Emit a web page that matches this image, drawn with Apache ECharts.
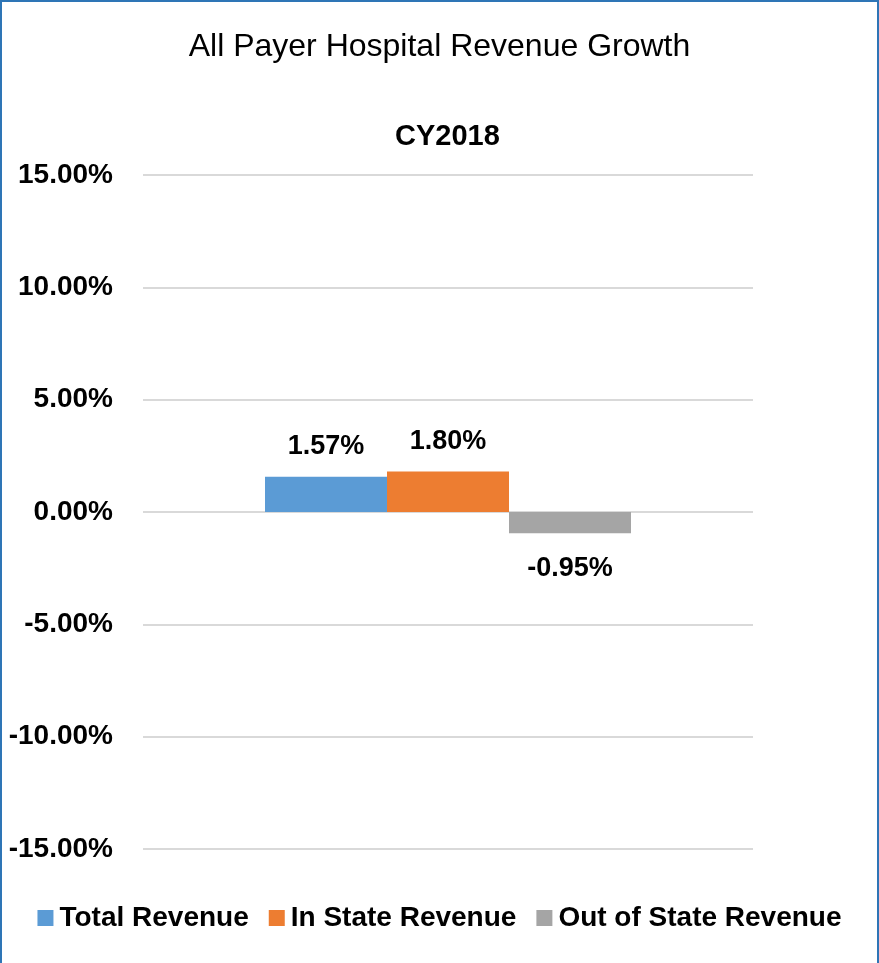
<!DOCTYPE html>
<html>
<head>
<meta charset="utf-8">
<script src="https://cdn.jsdelivr.net/npm/echarts@6/dist/echarts.min.js"></script>
<style>
  html, body { margin: 0; padding: 0; background: #fff; }
  #frame { position: absolute; left: 0; top: 0; width: 879px; height: 963px; box-sizing: border-box; border: 2px solid #2e75b6; border-bottom: none; }
  #chart { position: absolute; left: 0; top: 0; width: 879px; height: 963px; }
</style>
</head>
<body>
<div id="chart"></div>
<div id="frame"></div>
<script>
// Revenue growth by payer group, calendar year 2018 (percent)
const categories = ['CY2018'];
const seriesNames = ['Total Revenue', 'In State Revenue', 'Out of State Revenue'];
const totalRevenue = [1.57];
const inStateRevenue = [1.80];
const outOfStateRevenue = [-0.95];
const seriesColors = ['#5b9bd5', '#ed7d31', '#a5a5a5'];
const yTicks = { min: -15, max: 15, interval: 5 };

const FONT = '"Liberation Sans", Arial, sans-serif';
const pct = v => v.toFixed(2) + '%';

function makeSeries(name, values, color) {
  return {
    name: name,
    type: 'bar',
    barGap: '0%',
    barCategoryGap: '40%',
    itemStyle: { color: color },
    data: values.map(v => ({
      value: v,
      label: {
        show: true,
        position: v < 0 ? 'bottom' : 'top',
        distance: v < 0 ? 22 : 17,
        formatter: p => pct(p.value),
        fontFamily: FONT,
        fontWeight: 'bold',
        fontSize: 27,
        color: '#000'
      }
    }))
  };
}

const chart = echarts.init(document.getElementById('chart'));
chart.setOption({
  animation: false,
  backgroundColor: '#fff',
  title: [
    {
      text: 'All Payer Hospital Revenue Growth',
      left: 'center', top: 26,
      textStyle: { fontFamily: FONT, fontWeight: 'normal', fontSize: 32, color: '#000' }
    },
    {
      text: categories[0],
      left: 390, top: 117,
      textStyle: { fontFamily: FONT, fontWeight: 'bold', fontSize: 29, color: '#000' }
    }
  ],
  legend: {
    top: 899,
    left: 'center',
    itemWidth: 16,
    itemHeight: 16,
    itemGap: 20,
    icon: 'rect',
    textStyle: { fontFamily: FONT, fontWeight: 'bold', fontSize: 28, color: '#000', padding: [0, 0, 0, 1] },
    data: seriesNames
  },
  grid: { left: 143, right: 126, top: 175, bottom: 114 },
  xAxis: {
    type: 'category',
    data: categories,
    axisLine: { show: false },
    axisTick: { show: false },
    axisLabel: { show: false }
  },
  yAxis: {
    type: 'value',
    min: yTicks.min,
    max: yTicks.max,
    interval: yTicks.interval,
    axisLine: { show: false },
    axisTick: { show: false },
    splitLine: { lineStyle: { color: '#d9d9d9', width: 2 } },
    axisLabel: {
      margin: 30,
      formatter: v => pct(v),
      fontFamily: FONT,
      fontWeight: 'bold',
      fontSize: 28,
      color: '#000'
    }
  },
  series: [
    makeSeries(seriesNames[0], totalRevenue, seriesColors[0]),
    makeSeries(seriesNames[1], inStateRevenue, seriesColors[1]),
    makeSeries(seriesNames[2], outOfStateRevenue, seriesColors[2])
  ]
});
</script>
</body>
</html>
